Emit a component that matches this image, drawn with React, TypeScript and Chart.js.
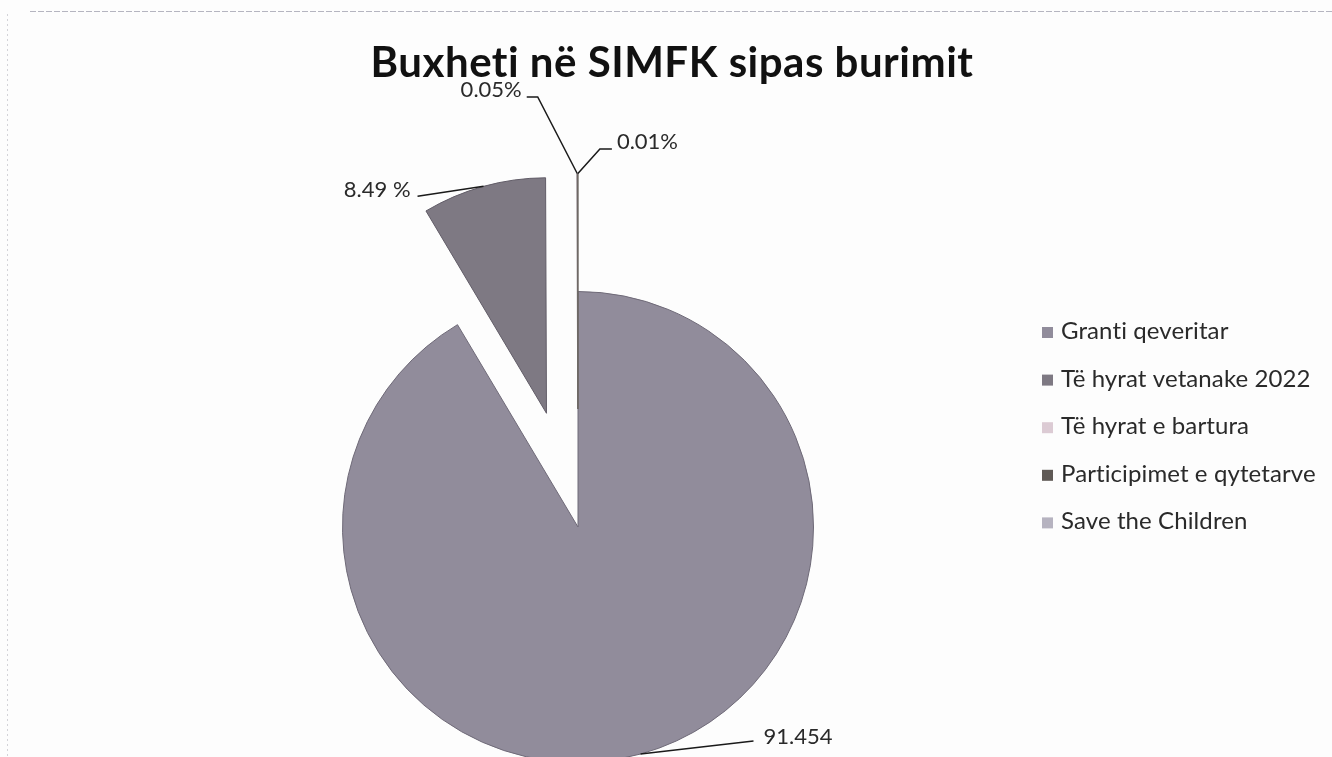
import React, { useEffect, useRef } from "react";
import { Chart, registerables } from "chart.js";

Chart.register(...registerables);

// ---- data ----
const titleText = "Buxheti në SIMFK sipas burimit";
const categories = [
  "Granti qeveritar",
  "Të hyrat vetanake 2022",
  "Të hyrat e bartura",
  "Participimet e qytetarve",
  "Save the Children",
];
const shares = [91.454, 8.49, 0.05, 0.01, 0];
const valueLabels = ["91.454", "8.49 %", "0.05%", "0.01%", ""];

// ---- styles ----
const sliceColors = ["#918c9b", "#7e7983", "#dccbd4", "#5f5955", "#b6b3c0"];
const sliceBorders = ["#6f6a78", "#625d68", "#8c8288", "#6a6560", "#9a98a4"];
const explodeDist = [0, 118, 118, 118, 0];
const labelLayout: any[] = [
  { dx: 123, dy: -17, align: "left", leader: [[-10, 4]] },
  { dx: -73, dy: 4, align: "right", leader: [[7, 6]] },
  { dx: -55.5, dy: -83.5, align: "right", leader: [[16, 7], [5, 7]] },
  { dx: 39, dy: -31.5, align: "left", leader: [[-17, 7], [-5, 7]] },
  null,
];
const FONT = "Lato, 'Open Sans', sans-serif";
const CANVAS_W = 1332;
const CANVAS_H = 1100;

const explodePlugin = {
  id: "explodeSlices",
  beforeDatasetsDraw(chart: any) {
    const meta = chart.getDatasetMeta(0);
    const ca = chart.chartArea;
    const cx = (ca.left + ca.right) / 2;
    const cy = (ca.top + ca.bottom) / 2;
    meta.data.forEach((el: any, i: number) => {
      const d = explodeDist[i] || 0;
      const mid = (el.startAngle + el.endAngle) / 2;
      el.x = cx + Math.cos(mid) * d;
      el.y = cy + Math.sin(mid) * d;
    });
  },
};

const decorPlugin = {
  id: "decor",
  beforeDraw(chart: any) {
    const ctx = chart.ctx;
    ctx.save();
    ctx.fillStyle = "#fdfdfd";
    ctx.fillRect(0, 0, chart.width, chart.height);
    ctx.strokeStyle = "rgba(150,150,165,0.7)";
    ctx.lineWidth = 1;
    ctx.setLineDash([6, 2]);
    ctx.beginPath();
    ctx.moveTo(30, 11.5);
    ctx.lineTo(1332, 11.5);
    ctx.stroke();
    ctx.strokeStyle = "rgba(170,170,180,0.5)";
    ctx.setLineDash([2, 3]);
    ctx.beginPath();
    ctx.moveTo(7.5, 14);
    ctx.lineTo(7.5, 757);
    ctx.stroke();
    ctx.restore();
  },
  afterDraw(chart: any) {
    const ctx = chart.ctx;
    ctx.save();
    // title
    ctx.fillStyle = "#111";
    ctx.font = `bold 42px ${FONT}`;
    (ctx as any).letterSpacing = "0.5px";
    ctx.textAlign = "center";
    ctx.textBaseline = "alphabetic";
    ctx.fillText(titleText, 672, 77);

    // value labels with leader lines
    (ctx as any).letterSpacing = "0px";
    const meta = chart.getDatasetMeta(0);
    ctx.font = `22px ${FONT}`;
    ctx.textBaseline = "middle";
    meta.data.forEach((el: any, i: number) => {
      const lay = labelLayout[i];
      if (!lay || !valueLabels[i]) return;
      const mid = (el.startAngle + el.endAngle) / 2;
      const ax = el.x + Math.cos(mid) * el.outerRadius;
      const ay = el.y + Math.sin(mid) * el.outerRadius;
      const tx = ax + lay.dx;
      const ty = ay + lay.dy;
      ctx.strokeStyle = "#1a1a1a";
      ctx.lineWidth = 1.5;
      ctx.setLineDash([]);
      ctx.beginPath();
      ctx.moveTo(ax, ay);
      lay.leader.forEach((p: number[]) => ctx.lineTo(tx + p[0], ty + p[1]));
      ctx.stroke();
      ctx.fillStyle = "#2a2a2a";
      ctx.textAlign = lay.align;
      ctx.fillText(valueLabels[i], tx, ty);
    });

    // legend
    ctx.font = `24px ${FONT}`;
    (ctx as any).letterSpacing = "0.1px";
    ctx.textAlign = "left";
    ctx.textBaseline = "alphabetic";
    categories.forEach((c, i) => {
      const base = 339 + i * 47.6;
      ctx.fillStyle = sliceColors[i];
      ctx.fillRect(1042, base - 12, 11, 11);
      ctx.fillStyle = "#2a2a2a";
      ctx.fillText(c, 1061, base);
    });
    ctx.restore();
  },
};

export default function App() {
  const ref = useRef<HTMLCanvasElement>(null);
  useEffect(() => {
    if (!ref.current) return;
    const chart = new Chart(ref.current, {
      type: "pie",
      data: {
        labels: categories,
        datasets: [
          {
            data: shares,
            backgroundColor: sliceColors,
            borderColor: sliceBorders,
            borderWidth: 1,
            hoverOffset: 0,
            offset: 0,
          },
        ],
      },
      options: {
        responsive: false,
        animation: false,
        events: [],
        layout: {
          padding: { left: 342, right: CANVAS_W - 342 - 472, top: 291, bottom: CANVAS_H - 291 - 472 },
        },
        plugins: {
          legend: { display: false },
          title: { display: false },
          tooltip: { enabled: false },
        },
      },
      plugins: [decorPlugin, explodePlugin],
    });
    return () => chart.destroy();
  }, []);
  return (
    <div style={{ position: "fixed", left: 0, top: 0, width: 1332, height: 757, overflow: "hidden", background: "#fdfdfd" }}>
      <canvas ref={ref} width={CANVAS_W} height={CANVAS_H} style={{ display: "block", width: CANVAS_W, height: CANVAS_H }} />
    </div>
  );
}
